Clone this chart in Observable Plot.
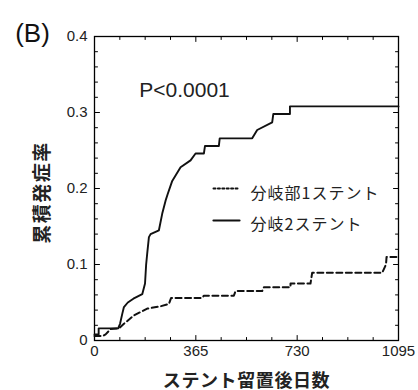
<!DOCTYPE html>
<html><head><meta charset="utf-8">
<script src="https://cdn.jsdelivr.net/npm/d3@7"></script>
<script src="https://cdn.jsdelivr.net/npm/@observablehq/plot@0.6"></script>
<style>body{margin:0;background:#fff;} #chart{width:418px;height:390px;}</style>
</head><body><div id="chart"></div>
<script>
// Two-stent (solid)
const daysTwoStent = [0, 15, 15, 85, 92, 100, 106, 120, 140, 172, 182, 186, 190, 196, 202, 232, 244, 256, 264, 280, 310, 346, 364, 394, 398, 448, 451, 568, 586, 640, 644, 704, 704, 1095];
const rateTwoStent = [0.008, 0.008, 0.016, 0.016, 0.022, 0.035, 0.044, 0.050, 0.055, 0.061, 0.075, 0.100, 0.115, 0.136, 0.140, 0.145, 0.167, 0.184, 0.193, 0.210, 0.228, 0.237, 0.246, 0.246, 0.256, 0.256, 0.266, 0.266, 0.277, 0.287, 0.298, 0.298, 0.308, 0.308];
// One-stent (dashed)
const daysOneStent = [0, 30, 40, 58, 88, 106, 142, 190, 238, 268, 276, 388, 394, 502, 508, 604, 610, 706, 706, 778, 784, 1036, 1050, 1052, 1095];
const rateOneStent = [0.006, 0.006, 0.008, 0.015, 0.016, 0.022, 0.033, 0.042, 0.045, 0.048, 0.056, 0.056, 0.059, 0.059, 0.065, 0.065, 0.070, 0.070, 0.075, 0.075, 0.089, 0.089, 0.100, 0.110, 0.110];

const xMajorTicks = [0, 365, 730, 1095];
const xMinorTicks = [91.25, 182.5, 273.75, 456.25, 547.5, 638.75, 821.25, 912.5, 1003.75];
const yMajorTicks = [0, 0.1, 0.2, 0.3, 0.4];
const yTickLabels = ["0", "0.1", "0.2", "0.3", "0.4"];
const yMinorTicks = [0.02, 0.04, 0.06, 0.08, 0.12, 0.14, 0.16, 0.18, 0.22, 0.24, 0.26, 0.28, 0.32, 0.34, 0.36, 0.38];
const legendLabels = ["分岐部1ステント", "分岐2ステント"];
const xTitle = "ステント留置後日数";
const yTitle = "累積発症率";
const pText = "P<0.0001";
const panelLabel = "(B)";

const two = daysTwoStent.map((d, i) => ({day: d, rate: rateTwoStent[i]}));
const one = daysOneStent.map((d, i) => ({day: d, rate: rateOneStent[i]}));

const jp = "Noto Sans CJK JP";
const lineShape = {draw(ctx, l) { ctx.moveTo(0, 0); ctx.lineTo(0, -l); }};

// inward tick helpers
const yTicks = (vals, side, len) => Plot.vector(vals, {y: d => d, frameAnchor: side, rotate: side === "left" ? 90 : -90,
  length: len, anchor: "start", shape: lineShape, stroke: "#000", strokeWidth: 1});
const xTicks = (vals, side, len) => Plot.vector(vals, {x: d => d, frameAnchor: side, rotate: side === "bottom" ? 0 : 180,
  length: len, anchor: "start", shape: lineShape, stroke: "#000", strokeWidth: 1});

const chart = Plot.plot({
  width: 418, height: 390,
  marginLeft: 94, marginRight: 20, marginTop: 36, marginBottom: 50,
  style: {fontFamily: "Liberation Sans, Arial, sans-serif", fontSize: "15px", color: "#222", background: "#fff"},
  x: {domain: [0, 1095], label: null},
  y: {domain: [0, 0.4], label: null},
  marks: [
    Plot.axisY(yMajorTicks, {anchor: "left", tickSize: 0, tickPadding: 7, label: null,
      tickFormat: d => yTickLabels[yMajorTicks.indexOf(d)], fill: "#222"}),
    Plot.axisX(xMajorTicks, {anchor: "bottom", tickSize: 0, tickPadding: 5, label: null,
      tickFormat: d => String(d), fill: "#222"}),
    yTicks(yMajorTicks, "left", 5), yTicks(yMinorTicks, "left", 3),
    yTicks(yMajorTicks, "right", 5), yTicks(yMinorTicks, "right", 3),
    xTicks(xMajorTicks, "bottom", 5), xTicks(xMinorTicks, "bottom", 3),
    xTicks(xMajorTicks, "top", 5), xTicks(xMinorTicks, "top", 3),
    Plot.frame({stroke: "#000", strokeWidth: 1.3}),
    // curves
    Plot.line(one, {x: "day", y: "rate", stroke: "#111", strokeWidth: 2, strokeDasharray: "6,3.5"}),
    Plot.line(two, {x: "day", y: "rate", stroke: "#111", strokeWidth: 1.9}),
    // annotations
    Plot.text([panelLabel], {frameAnchor: "top-left", dx: -62, dy: -13, fontSize: 26, textAnchor: "middle", fill: "#111"}),
    Plot.text([pText], {frameAnchor: "top-left", dx: 90, dy: 46, fontSize: 21, textAnchor: "middle", fill: "#222"}),
    // legend
    Plot.vector([0], {frameAnchor: "top-left", dx: 119, dy: 152, rotate: 90, length: 26, anchor: "start",
      shape: lineShape, stroke: "#111", strokeWidth: 2, strokeDasharray: "2,2.4"}),
    Plot.vector([0], {frameAnchor: "top-left", dx: 119, dy: 184, rotate: 90, length: 26, anchor: "start",
      shape: lineShape, stroke: "#111", strokeWidth: 2.2}),
    Plot.text([legendLabels[0]], {frameAnchor: "top-left", dx: 156, dy: 151, fontSize: 16, textAnchor: "start",
      fontFamily: jp, fill: "#222"}),
    Plot.text([legendLabels[1]], {frameAnchor: "top-left", dx: 156, dy: 182, fontSize: 16, textAnchor: "start",
      fontFamily: jp, fill: "#222"}),
    // axis titles
    Plot.text([xTitle], {frameAnchor: "bottom", dy: 46, fontSize: 18, fontWeight: "bold", fontFamily: jp, fill: "#222"}),
    Plot.text([yTitle], {frameAnchor: "left", dx: -52, dy: 4, rotate: -90, textAnchor: "middle", fontSize: 19,
      fontWeight: "bold", fontFamily: jp, fill: "#222"})
  ]
});
document.getElementById("chart").appendChild(chart);
d3.select(chart).selectAll("text").each(function() {
  const t = this.textContent;
  if (t === legendLabels[0] || t === legendLabels[1]) this.setAttribute("letter-spacing", "1");
  if (t === yTitle) this.setAttribute("letter-spacing", "1.5");
  if (t === xTitle) this.setAttribute("letter-spacing", "0.6");
});
</script>
</body></html>
